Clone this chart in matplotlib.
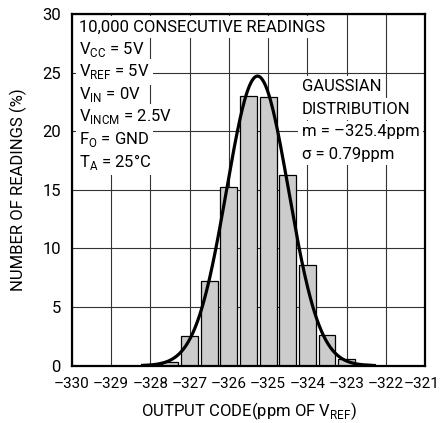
import matplotlib
matplotlib.use("Agg")
import matplotlib.pyplot as plt
from matplotlib.transforms import ScaledTranslation
import numpy as np

plt.rcParams['font.family'] = ['Roboto', 'DejaVu Sans']
plt.rcParams['mathtext.fontset'] = 'custom'
plt.rcParams['mathtext.rm'] = 'Roboto'

# histograma de lecturas (%)
codigos = [-328.0, -327.5, -327.0, -326.5, -326.0, -325.5, -325.0, -324.5, -324.0, -323.5, -323.0, -322.5]
lecturas = [0.1, 0.35, 2.5, 7.2, 15.2, 23.0, 22.9, 16.3, 8.6, 2.6, 0.6, 0.15]

# curva gaussiana
media = -325.27
sigma = 0.79
pico = 24.7
x_curva = np.linspace(-328.2, -322.4, 300)

xticks = [-330, -329, -328, -327, -326, -325, -324, -323, -322, -321]
xtick_labels = ['–330', '–329', '–328', '–327', '–326', '–325', '–324', '–323', '–322', '–321']
yticks = [0, 5, 10, 15, 20, 25, 30]

fig = plt.figure(figsize=(4.43, 4.23), dpi=100)
ax = fig.add_axes([0.1625, 0.1355, 0.797, 0.8315])

ax.bar(codigos, lecturas, width=0.43, color='#cccccc', edgecolor='black', linewidth=0.9, zorder=2)
ax.plot(x_curva, pico * np.exp(-(x_curva - media) ** 2 / (2 * sigma ** 2)), color='black', lw=2.3, zorder=3)

ax.set_xlim(-330, -321)
ax.set_ylim(0, 30)
ax.set_xticks(xticks)
ax.set_xticklabels(xtick_labels)
ax.set_yticks(yticks)
ax.tick_params(axis='x', length=0, labelsize=11, pad=8)
ax.tick_params(axis='y', length=0, labelsize=12, pad=8)
ax.grid(True, color='#333333', lw=0.8, zorder=1)
ax.set_axisbelow(True)
for s in ax.spines.values():
    s.set_linewidth(1.6)

# la ultima etiqueta queda pegada al borde, se corre un poco
ult = ax.get_xticklabels()[-1]
ult.set_transform(ult.get_transform() + ScaledTranslation(-2.5 / 72, 0, fig.dpi_scale_trans))

ax.set_xlabel(r'OUTPUT CODE(ppm OF V$_\mathregular{REF}$)', fontsize=12, labelpad=7)
ax.set_ylabel('NUMBER OF READINGS (%)', fontsize=12, labelpad=11)

caja = dict(facecolor='white', edgecolor='none', pad=2.5)
izq = ['10,000 CONSECUTIVE READINGS',
       r'V$_\mathregular{CC}$ = 5V',
       r'V$_\mathregular{REF}$ = 5V',
       r'V$_\mathregular{IN}$ = 0V',
       r'V$_\mathregular{INCM}$ = 2.5V',
       r'F$_\mathregular{O}$ = GND',
       r'T$_\mathregular{A}$ = 25°C']
for i, t in enumerate(izq):
    ax.text(-329.82, 28.9 - i * 1.92, t, fontsize=12, va='center', ha='left', bbox=caja, zorder=4)

der = ['GAUSSIAN', 'DISTRIBUTION', 'm = –325.4ppm', 'σ = 0.79ppm']
for i, t in enumerate(der):
    ax.text(-324.14, 23.8 - i * 1.92, t, fontsize=12, va='center', ha='left', bbox=caja, zorder=4)

fig.savefig('out.png', dpi=100)
